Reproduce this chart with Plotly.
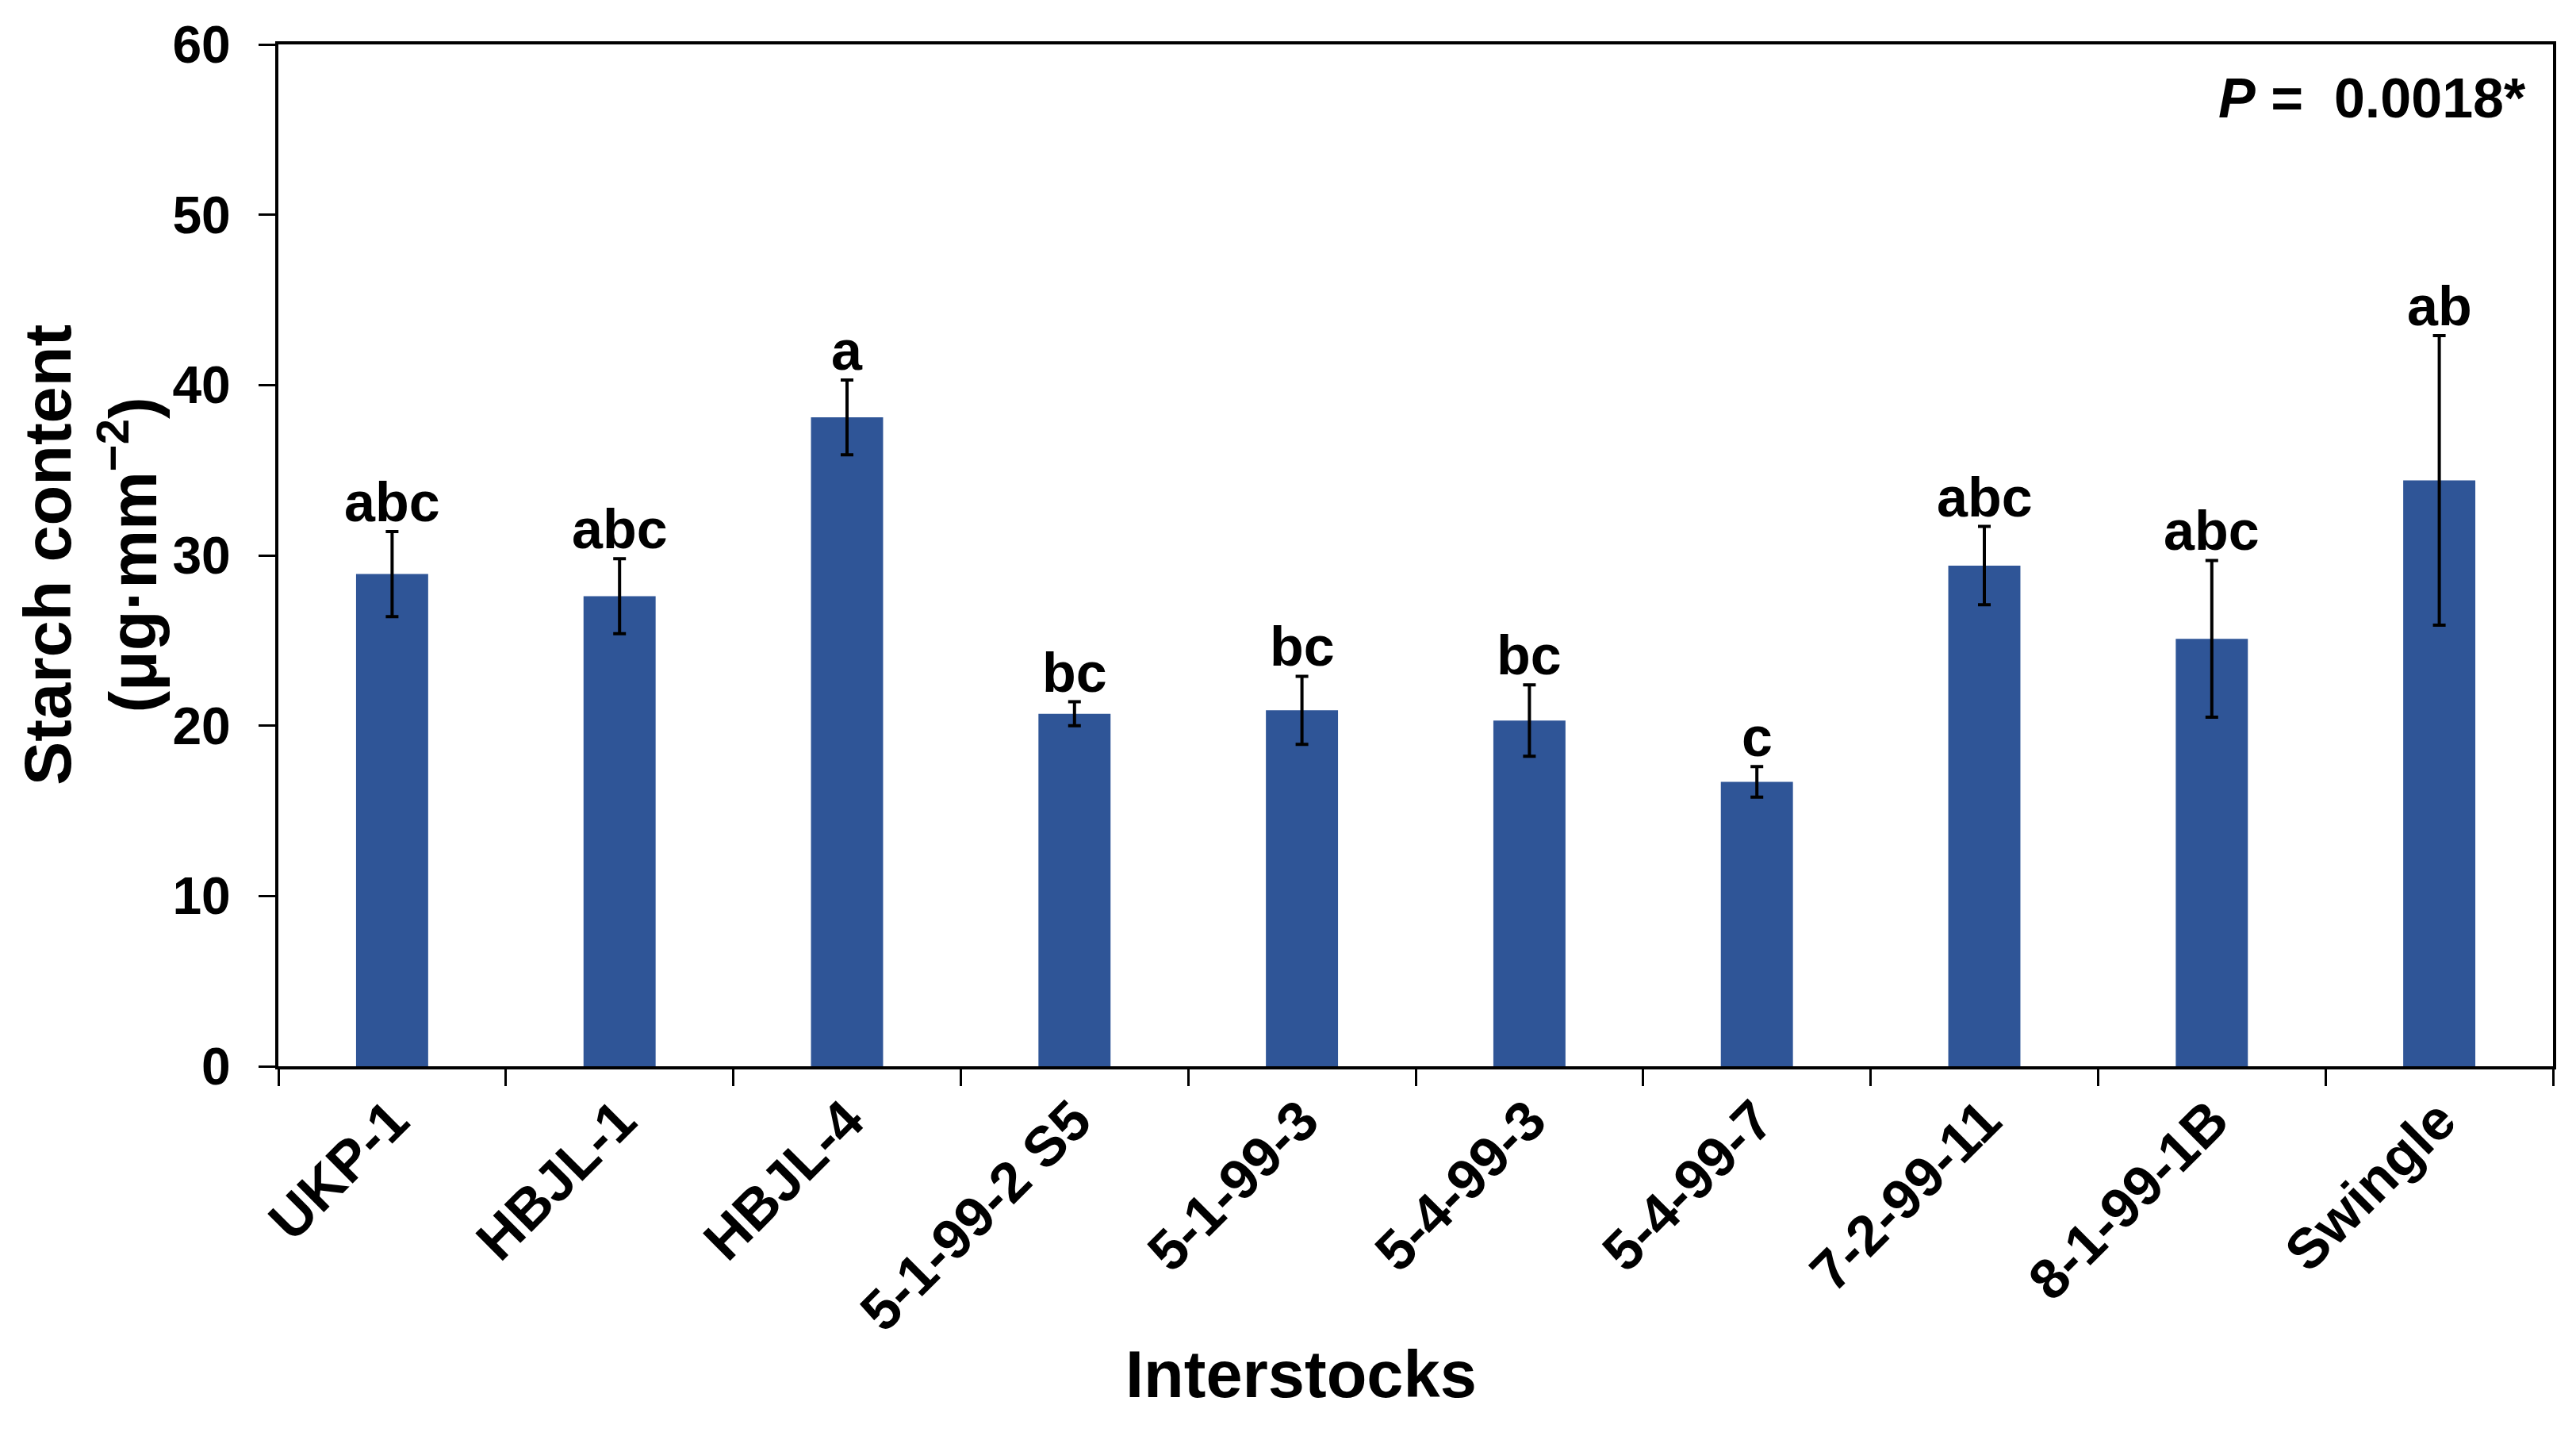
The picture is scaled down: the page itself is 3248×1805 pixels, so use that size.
import plotly.graph_objects as go

categories = ["UKP-1", "HBJL-1", "HBJL-4", "5-1-99-2 S5", "5-1-99-3", "5-4-99-3",
              "5-4-99-7", "7-2-99-11", "8-1-99-1B", "Swingle"]
starch = [28.9, 27.6, 38.1, 20.7, 20.9, 20.3, 16.7, 29.4, 25.1, 34.4]
errors = [2.5, 2.2, 2.2, 0.7, 2.0, 2.1, 0.9, 2.3, 4.6, 8.5]
letters = ["abc", "abc", "a", "bc", "bc", "bc", "c", "abc", "abc", "ab"]
y_ticks = [0, 10, 20, 30, 40, 50, 60]

FONT = "Liberation Sans, Arial, sans-serif"
W, H = 3248, 1805
L, R, T, B = 351, 29, 56, 461
plot_w = W - L - R
plot_h = H - T - B

fig = go.Figure()
fig.add_trace(go.Bar(
    x=categories, y=starch, width=0.317,
    marker=dict(color="#2F5597", line=dict(width=0)),
    error_y=dict(type="data", array=errors, visible=True, color="black",
                 thickness=4, width=8),
))

# significance letters
for c, v, e, t in zip(categories, starch, errors, letters):
    fig.add_annotation(x=c, y=v + e, text=t, showarrow=False, xanchor="center",
                       yanchor="bottom", yshift=-4,
                       font=dict(family=FONT, size=70, color="black", weight="bold"))

# P value
fig.add_annotation(xref="paper", yref="paper", x=1, y=1, xanchor="right", yanchor="middle",
                   xshift=-32, yshift=-68, showarrow=False,
                   text="<i>P</i> =\u00a0\u00a00.0018*",
                   font=dict(family=FONT, size=70, color="black", weight="bold"))

# axis titles
fig.add_annotation(xref="paper", yref="paper", x=(1640 - L) / plot_w,
                   y=-(1781 - T - plot_h) / plot_h,
                   xanchor="center", yanchor="bottom", showarrow=False, text="Interstocks",
                   font=dict(family=FONT, size=83, color="black", weight="bold"))
fig.add_annotation(xref="paper", yref="paper", x=(114 - L) / plot_w, y=0.5,
                   xanchor="center", yanchor="middle", showarrow=False, textangle=-90,
                   text="Starch content<br>(μg·mm<sup>−2</sup>)",
                   font=dict(family=FONT, size=83, color="black", weight="bold"))

fig.update_layout(
    width=W, height=H,
    margin=dict(l=L, r=R, t=T, b=B, autoexpand=False),
    plot_bgcolor="white", paper_bgcolor="white",
    showlegend=False,
    xaxis=dict(
        type="category", showgrid=False, showline=True, linecolor="black", linewidth=4,
        mirror=True, ticks="outside", tickson="boundaries", ticklen=21, tickwidth=3,
        tickcolor="black", tickangle=-45, ticklabelstandoff=-6,
        tickfont=dict(family=FONT, size=71, color="black", weight="bold"),
    ),
    yaxis=dict(
        range=[0, 60], tickvals=y_ticks, showgrid=False, zeroline=False, showline=True,
        linecolor="black", linewidth=4, mirror=True, ticks="outside", ticklen=21,
        tickwidth=3, tickcolor="black", ticklabelstandoff=22,
        tickfont=dict(family=FONT, size=66, color="black", weight="bold"),
    ),
)

fig.write_html("out.html", config={"displayModeBar": False},
               post_script="document.body.style.margin='0';document.body.style.overflow='hidden';")
